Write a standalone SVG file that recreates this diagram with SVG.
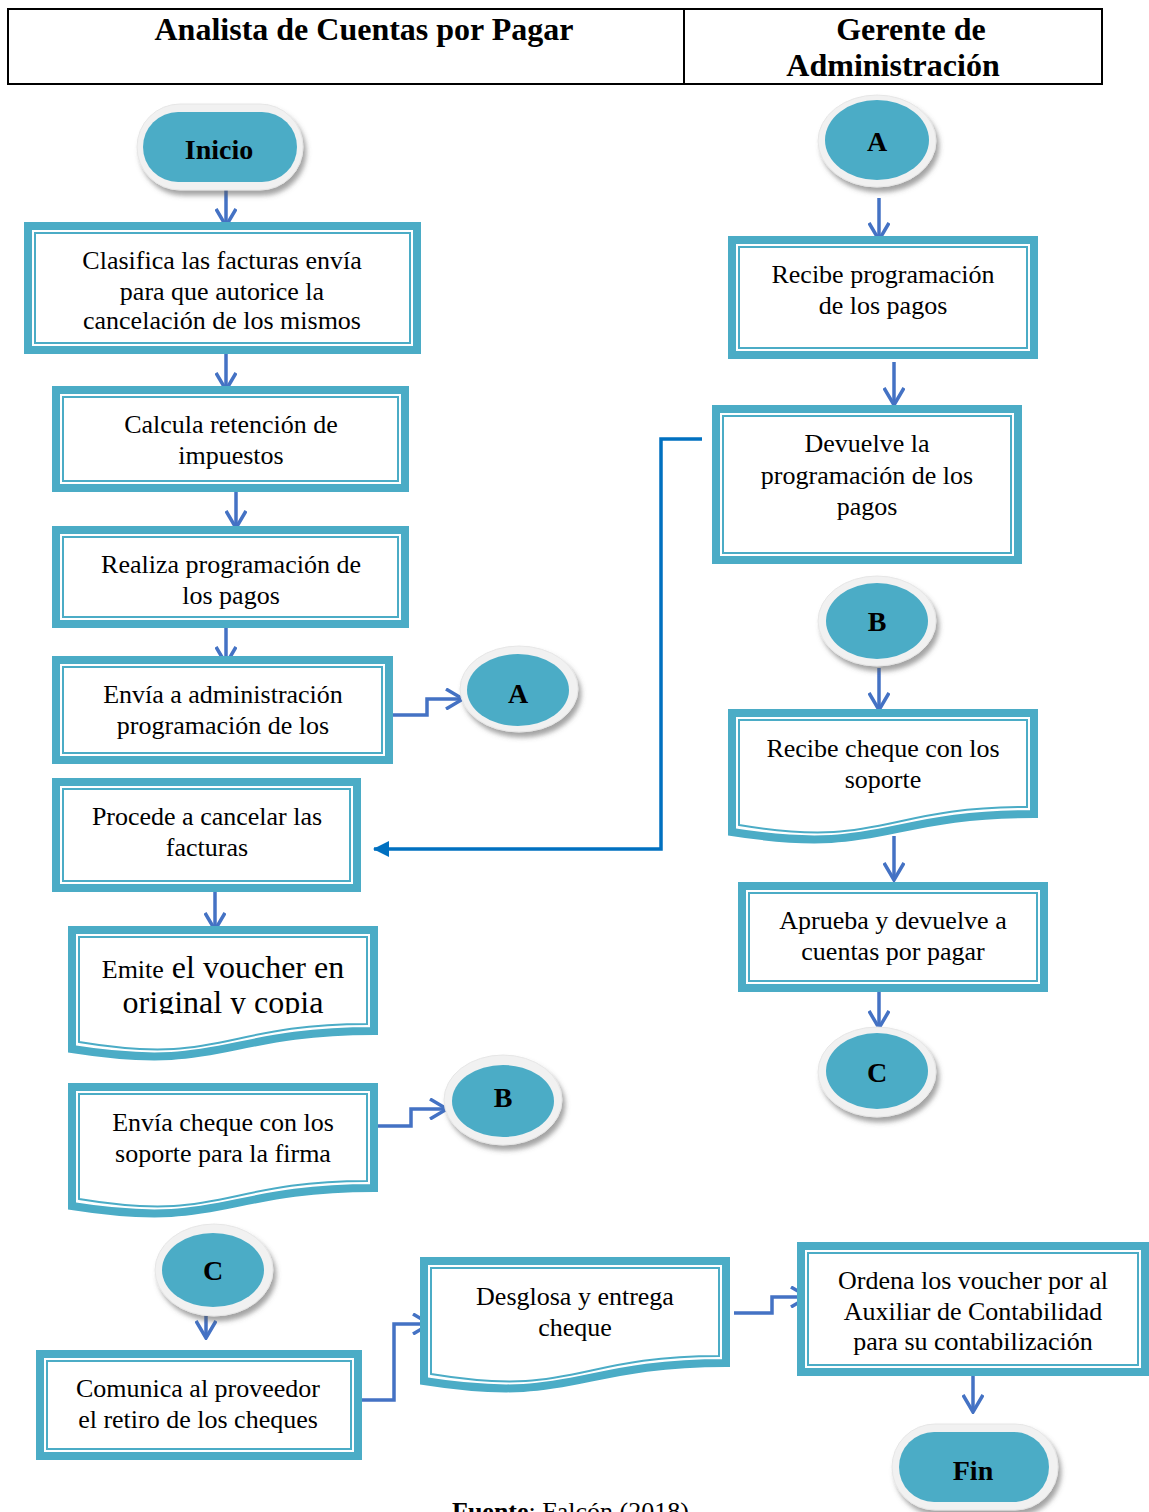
<svg xmlns="http://www.w3.org/2000/svg" width="1149" height="1512" viewBox="0 0 1149 1512">
<style>
.ob{fill:#fff;stroke:#4BACC6;stroke-width:8}
.ib{fill:none;stroke:#4BACC6;stroke-width:2}
.t{font-family:"Liberation Serif","Times New Roman",serif;font-size:26px;fill:#000;text-anchor:middle}
.big{font-size:32px}
.h{font-family:"Liberation Serif","Times New Roman",serif;font-size:32px;font-weight:bold;fill:#000;text-anchor:middle}
.b{font-family:"Liberation Serif","Times New Roman",serif;font-size:28px;font-weight:bold;fill:#000;text-anchor:middle}
.ring{fill:#F1F1F1;stroke:#E6E6E6;stroke-width:1}
.core{fill:#4BACC6}
.cn{fill:none;stroke:#4472C4;stroke-width:3.5}
.cl{fill:none;stroke:#0070C0;stroke-width:3.5}
</style>
<defs>
<marker id="ah" viewBox="0 0 20 22" refX="18" refY="11" markerWidth="20" markerHeight="22" markerUnits="userSpaceOnUse" orient="auto">
<path d="M1,1 L18,11 L1,21" fill="none" stroke="#4472C4" stroke-width="3.5"/>
</marker>
<marker id="tri" viewBox="0 0 16 16" refX="15" refY="8" markerWidth="16" markerHeight="16" markerUnits="userSpaceOnUse" orient="auto">
<path d="M0,0 L16,8 L0,16 Z" fill="#0070C0"/>
</marker>
<filter id="sh" x="-20%" y="-20%" width="150%" height="160%">
<feDropShadow dx="3" dy="5" stdDeviation="2.5" flood-color="#595959" flood-opacity="0.55"/>
</filter>
<clipPath id="clipDoc1"><rect x="68" y="926" width="310" height="88"/></clipPath>
</defs>
<rect width="1149" height="1512" fill="#fff"/>

<g id="header">
<rect x="8" y="9" width="1094" height="75" fill="none" stroke="#000" stroke-width="2"/>
<line x1="684" y1="9" x2="684" y2="84" stroke="#000" stroke-width="2"/>
<text class="h" x="364" y="40">Analista de Cuentas por Pagar</text>
<text class="h" x="911" y="40">Gerente de</text>
<text class="h" x="893" y="76">Administración</text>
</g>

<g id="connectors">
<path class="cn" d="M226,186 V226" marker-end="url(#ah)"/>
<path class="cn" d="M226,352 V390" marker-end="url(#ah)"/>
<path class="cn" d="M236,488 V528" marker-end="url(#ah)"/>
<path class="cn" d="M226,624 V664" marker-end="url(#ah)"/>
<path class="cn" d="M390,715 H427 V699 H463" marker-end="url(#ah)"/>
<path class="cn" d="M215,886 V930" marker-end="url(#ah)"/>
<path class="cn" d="M373,1126 H411 V1109 H447" marker-end="url(#ah)"/>
<path class="cn" d="M206,1298 V1338" marker-end="url(#ah)"/>
<path class="cn" d="M360,1400 H394 V1324 H430" marker-end="url(#ah)"/>
<path class="cn" d="M734,1313 H772 V1297 H808" marker-end="url(#ah)"/>
<path class="cn" d="M973,1374 V1412" marker-end="url(#ah)"/>
<path class="cn" d="M879,198 V240" marker-end="url(#ah)"/>
<path class="cn" d="M894,362 V405" marker-end="url(#ah)"/>
<path class="cn" d="M879,668 V710" marker-end="url(#ah)"/>
<path class="cn" d="M894,836 V880" marker-end="url(#ah)"/>
<path class="cn" d="M879,986 V1028" marker-end="url(#ah)"/>
<path class="cl" d="M702,439 H661 V849 H374" marker-end="url(#tri)"/>
</g>

<g id="inicio">
<rect class="ring" x="137" y="104" width="166" height="86" rx="43" filter="url(#sh)"/>
<rect class="core" x="143" y="112" width="154" height="70" rx="35"/>
<text class="b" x="219" y="159">Inicio</text>
</g>

<g id="clasifica">
<rect class="ob" x="28" y="226" width="389" height="124"/>
<rect class="ib" x="35" y="233" width="375" height="110"/>
<text class="t" x="222" y="269">Clasifica las facturas  envía</text>
<text class="t" x="222" y="300">para que autorice la</text>
<text class="t" x="222" y="329">cancelación de los mismos</text>
</g>

<g id="calcula">
<rect class="ob" x="56" y="390" width="349" height="98"/>
<rect class="ib" x="63" y="397" width="335" height="84"/>
<text class="t" x="231" y="433">Calcula retención de</text>
<text class="t" x="231" y="464">impuestos</text>
</g>

<g id="realiza">
<rect class="ob" x="56" y="530" width="349" height="94"/>
<rect class="ib" x="63" y="537" width="335" height="80"/>
<text class="t" x="231" y="573">Realiza programación de</text>
<text class="t" x="231" y="604">los pagos</text>
</g>

<g id="envia-admin">
<rect class="ob" x="56" y="660" width="333" height="100"/>
<rect class="ib" x="63" y="667" width="319" height="86"/>
<text class="t" x="223" y="703">Envía a administración</text>
<text class="t" x="223" y="734">programación de los</text>
</g>

<g id="a-left">
<ellipse class="ring" cx="519" cy="689" rx="59" ry="43" filter="url(#sh)"/>
<ellipse class="core" cx="518" cy="690" rx="51" ry="36"/>
<text class="b" x="518" y="703">A</text>
</g>

<g id="procede">
<rect class="ob" x="56" y="782" width="301" height="106"/>
<rect class="ib" x="63" y="789" width="287" height="92"/>
<text class="t" x="207" y="825">Procede a cancelar las</text>
<text class="t" x="207" y="856">facturas</text>
</g>

<g id="emite">
<path class="ob" d="M72,930 H374 V1031 C223,1031 223,1073 72,1049 Z"/>
<path class="ib" d="M79,937 H367 V1024 C223,1024 223,1066 79,1042 Z"/>
<text class="t" x="223" y="978"><tspan>Emite</tspan><tspan class="big"> el voucher en</tspan></text>
<text class="t big" x="223" y="1013" clip-path="url(#clipDoc1)">original y copia</text>
</g>

<g id="envia-cheque">
<path class="ob" d="M72,1087 H374 V1188 C223,1188 223,1230 72,1206 Z"/>
<path class="ib" d="M79,1094 H367 V1181 C223,1181 223,1223 79,1199 Z"/>
<text class="t" x="223" y="1131">Envía cheque con los</text>
<text class="t" x="223" y="1162">soporte para la firma</text>
</g>

<g id="b-left">
<ellipse class="ring" cx="503" cy="1100" rx="59" ry="45" filter="url(#sh)"/>
<ellipse class="core" cx="503" cy="1101" rx="51" ry="36"/>
<text class="b" x="503" y="1107">B</text>
</g>

<g id="c-left">
<ellipse class="ring" cx="214" cy="1270" rx="59" ry="46" filter="url(#sh)"/>
<ellipse class="core" cx="213" cy="1270" rx="51" ry="37"/>
<text class="b" x="213" y="1280">C</text>
</g>

<g id="comunica">
<rect class="ob" x="40" y="1354" width="318" height="102"/>
<rect class="ib" x="47" y="1361" width="304" height="88"/>
<text class="t" x="198" y="1397">Comunica al proveedor</text>
<text class="t" x="198" y="1428">el retiro de los cheques</text>
</g>

<g id="desglosa">
<path class="ob" d="M424,1261 H726 V1363 C575,1363 575,1405 424,1381 Z"/>
<path class="ib" d="M431,1268 H719 V1356 C575,1356 575,1398 431,1374 Z"/>
<text class="t" x="575" y="1305">Desglosa y entrega</text>
<text class="t" x="575" y="1336">cheque</text>
</g>

<g id="ordena">
<rect class="ob" x="801" y="1246" width="344" height="126"/>
<rect class="ib" x="808" y="1253" width="330" height="112"/>
<text class="t" x="973" y="1289">Ordena los voucher por al</text>
<text class="t" x="973" y="1320">Auxiliar de Contabilidad</text>
<text class="t" x="973" y="1350">para su contabilización</text>
</g>

<g id="fin">
<rect class="ring" x="892" y="1424" width="166" height="86" rx="43" filter="url(#sh)"/>
<rect class="core" x="899" y="1432" width="150" height="70" rx="35"/>
<text class="b" x="973" y="1480">Fin</text>
</g>

<g id="a-right">
<ellipse class="ring" cx="877" cy="141" rx="59" ry="46" filter="url(#sh)"/>
<ellipse class="core" cx="877" cy="140" rx="52" ry="40"/>
<text class="b" x="877" y="151">A</text>
</g>

<g id="recibe-prog">
<rect class="ob" x="732" y="240" width="302" height="115"/>
<rect class="ib" x="739" y="247" width="288" height="101"/>
<text class="t" x="883" y="283">Recibe programación</text>
<text class="t" x="883" y="314">de los pagos</text>
</g>

<g id="devuelve">
<rect class="ob" x="716" y="409" width="302" height="151"/>
<rect class="ib" x="723" y="416" width="288" height="137"/>
<text class="t" x="867" y="452">Devuelve la</text>
<text class="t" x="867" y="484">programación de los</text>
<text class="t" x="867" y="515">pagos</text>
</g>

<g id="b-right">
<ellipse class="ring" cx="877" cy="621" rx="59" ry="45" filter="url(#sh)"/>
<ellipse class="core" cx="877" cy="621" rx="51" ry="38"/>
<text class="b" x="877" y="631">B</text>
</g>

<g id="recibe-cheque">
<path class="ob" d="M732,713 H1034 V814 C883,814 883,856 732,832 Z"/>
<path class="ib" d="M739,720 H1027 V807 C883,807 883,849 739,825 Z"/>
<text class="t" x="883" y="757">Recibe  cheque con los</text>
<text class="t" x="883" y="788">soporte</text>
</g>

<g id="aprueba">
<rect class="ob" x="742" y="886" width="302" height="102"/>
<rect class="ib" x="749" y="893" width="288" height="88"/>
<text class="t" x="893" y="929">Aprueba y devuelve a</text>
<text class="t" x="893" y="960">cuentas por pagar</text>
</g>

<g id="c-right">
<ellipse class="ring" cx="877" cy="1072" rx="59" ry="45" filter="url(#sh)"/>
<ellipse class="core" cx="877" cy="1071" rx="51" ry="38"/>
<text class="b" x="877" y="1082">C</text>
</g>

<g id="fuente">
<text x="452" y="1520" font-family="Liberation Serif, Times New Roman, serif" font-size="26" fill="#000"><tspan font-weight="bold">Fuente</tspan>: Falcón (2018)</text>
</g>
</svg>
